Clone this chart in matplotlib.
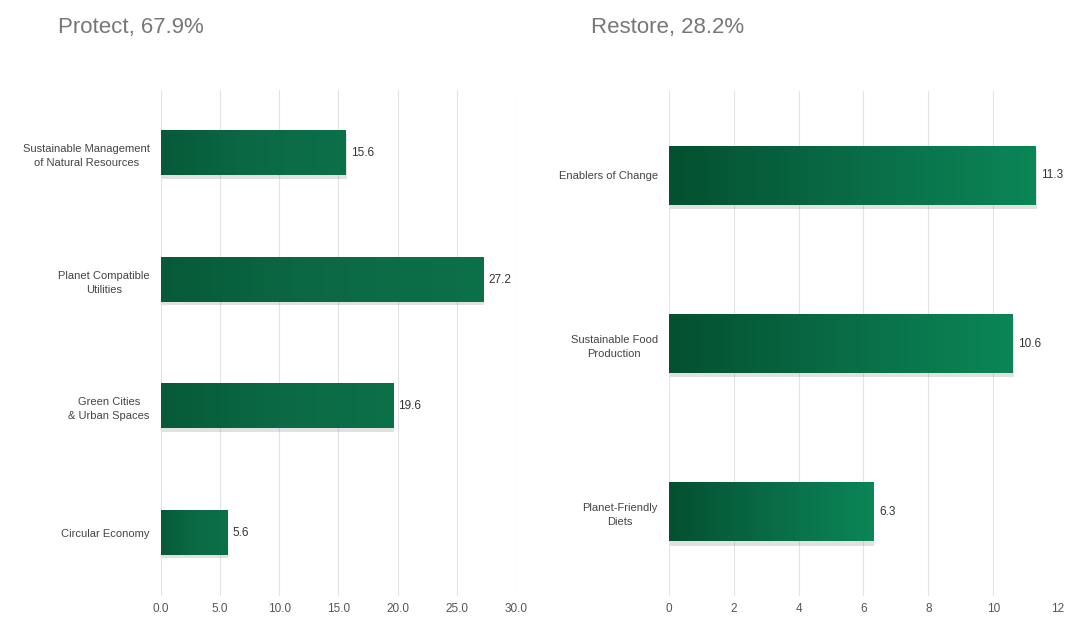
import matplotlib.pyplot as plt
import numpy as np
from matplotlib.colors import LinearSegmentedColormap

plt.rcParams['font.family'] = ['Liberation Sans', 'DejaVu Sans']

# data
protect_labels = ['Sustainable Management\nof Natural Resources', 'Planet Compatible\nUtilities',
                  'Green Cities\n& Urban Spaces', 'Circular Economy']
protect_values = [15.6, 27.2, 19.6, 5.6]
restore_labels = ['Enablers of Change', 'Sustainable Food\nProduction', 'Planet-Friendly\nDiets']
restore_values = [11.3, 10.6, 6.3]
protect_ticks = [0, 5, 10, 15, 20, 25, 30]
restore_ticks = [0, 2, 4, 6, 8, 10, 12]

green_left = LinearSegmentedColormap.from_list('gl', ['#075a38', '#0b6a45', '#0c7049'])
green_right = LinearSegmentedColormap.from_list('gr', ['#04502f', '#096c46', '#0b8656'])
grad = np.linspace(0, 1, 256).reshape(1, -1)

fig = plt.figure(figsize=(10.65, 6.17), dpi=100)


def draw_panel(ax, labels, values, ticks, fmt, height, cmap):
    y = np.arange(len(values))
    for i, v in enumerate(values):
        # soft shadow
        ax.barh(i + 0.025, v, height=height, left=0.003 * ticks[-1], color='#888888', alpha=0.25, zorder=2)
        ax.imshow(grad, cmap=cmap, aspect='auto', zorder=3,
                  extent=[0, v, i + height / 2, i - height / 2])
        ax.text(v + 0.015 * ticks[-1], i, fmt.format(v), va='center', ha='left',
                fontsize=8.5, color='#333333', zorder=4)
    ax.set_xlim(ticks[0], ticks[-1])
    ax.set_ylim(len(values) - 0.5, -0.5)
    ax.set_yticks(y)
    ax.set_yticklabels(labels, fontsize=8, color='#444444', multialignment='center', linespacing=1.5)
    ax.set_xticks(ticks)
    ax.set_xticklabels([fmt.format(t) for t in ticks], fontsize=8.5, color='#555555')
    ax.grid(axis='x', color='#e3e3e3', linewidth=0.8, zorder=0)
    ax.set_axisbelow(True)
    ax.tick_params(axis='x', length=0, pad=5)
    ax.tick_params(axis='y', length=0, pad=8)
    for s in ax.spines.values():
        s.set_visible(False)


ax1 = fig.add_axes([0.151, 0.034, 0.3335, 0.820])
draw_panel(ax1, protect_labels, protect_values, protect_ticks, '{:.1f}', 0.35, green_left)

ax2 = fig.add_axes([0.628, 0.034, 0.3655, 0.818])
draw_panel(ax2, restore_labels, restore_values, restore_ticks, '{:g}', 0.35, green_right)

fig.text(0.054, 0.955, 'Protect, 67.9%', fontsize=16, color='#777777', va='center')
fig.text(0.555, 0.955, 'Restore, 28.2%', fontsize=16, color='#777777', va='center')

fig.savefig('out.png', dpi=100)
